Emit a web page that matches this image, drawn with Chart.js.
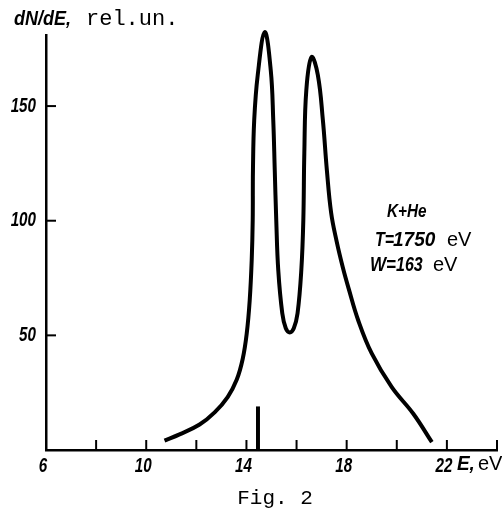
<!DOCTYPE html>
<html>
<head>
<meta charset="utf-8">
<script src="https://cdn.jsdelivr.net/npm/chart.js@4/dist/chart.umd.min.js"></script>
<style>
  html, body { margin: 0; padding: 0; background: #fff; }
  #wrap { width: 502px; height: 508px; }
</style>
</head>
<body>
<div id="wrap"><canvas id="spectrum" width="502" height="508"></canvas></div>
<script>
// --- DATA ---
const energy = [10.73, 11.33, 12.13, 12.73, 13.25, 13.61, 13.85, 14.01, 14.13, 14.21, 14.25, 14.26, 14.31, 14.45, 14.73,
                14.97, 15.07, 15.13, 15.19, 15.27, 15.43, 15.57, 15.73, 15.89, 16.04, 16.19, 16.27, 16.31, 16.39, 16.6,
                16.85, 17.05, 17.21, 17.38, 17.6, 17.85, 18.08, 18.46, 19.0, 19.8, 20.66, 21.4];
const intensity = [4.1, 6.8, 11.1, 16.4, 23.1, 30.6, 39.7, 50.7, 65.3, 82.8, 100.2, 122, 143.9, 163.5, 182.3,
                   165.7, 143.9, 122, 100.2, 78.4, 59.6, 53.1, 51.3, 53.1, 59.6, 78.4, 100.2, 129.5, 157, 171.4,
                   163.5, 143.9, 122, 103.5, 91, 79.5, 70.4, 56.6, 42.1, 27.4, 15.8, 3.4];
const markerE = [14.46, 14.46];
const markerV = [0, 19];
const xTicks = [6, 10, 14, 18, 22];
const yTicks = [50, 100, 150];

const labelFont = "'Liberation Sans', 'DejaVu Sans', sans-serif";
const monoFont = "'Liberation Mono', 'DejaVu Sans Mono', monospace";

// narrow bold italic lettering like the original print
function narrowText(ctx, text, x, y, size, align, squeeze) {
    ctx.save();
    ctx.translate(x, y);
    ctx.scale(squeeze, 1);
    ctx.font = `italic bold ${size}px ${labelFont}`;
    ctx.textAlign = align;
    ctx.fillText(text, 0, 0);
    ctx.restore();
}

// tick marks pointing into the plot + loose text of the figure
const figureText = {
    id: 'figureText',
    afterDraw(chart) {
        const { ctx, scales: { x, y } } = chart;
        ctx.save();
        ctx.strokeStyle = '#000';
        ctx.lineWidth = 2;
        for (let v = 8; v <= 24; v += 2) {
            const px = x.getPixelForValue(v);
            ctx.beginPath();
            ctx.moveTo(px, y.bottom);
            ctx.lineTo(px, y.bottom - 10);
            ctx.stroke();
        }
        yTicks.forEach(v => {
            const py = y.getPixelForValue(v);
            ctx.beginPath();
            ctx.moveTo(x.left, py);
            ctx.lineTo(x.left + 10, py);
            ctx.stroke();
        });

        ctx.fillStyle = '#000';
        ctx.textBaseline = 'middle';

        // tick labels
        xTicks.forEach(v => narrowText(ctx, String(v), x.getPixelForValue(v) - 3, y.bottom + 16, 20, 'center', 0.76));
        yTicks.forEach(v => narrowText(ctx, String(v), x.left - 10, y.getPixelForValue(v), 20, 'right', 0.76));

        // axis titles
        narrowText(ctx, 'dN/dE,', 14, 19, 20, 'left', 0.9);
        ctx.textAlign = 'left';
        ctx.font = `22px ${monoFont}`;
        ctx.fillText('rel.un.', 86, 19);

        const ex = x.getPixelForValue(22) + 10;
        narrowText(ctx, 'E,', ex, 464, 20, 'left', 0.95);
        ctx.textAlign = 'left';
        ctx.font = `20px 'Liberation Sans', sans-serif`;
        ctx.fillText('eV', ex + 21, 464);

        // legend block
        narrowText(ctx, 'K+He', 387, 212, 18, 'left', 0.85);
        narrowText(ctx, 'T=', 375, 240, 20, 'left', 0.8);
        narrowText(ctx, '1750', 393, 240, 20, 'left', 0.95);
        narrowText(ctx, 'W=', 370, 265, 20, 'left', 0.85);
        narrowText(ctx, '163', 396, 265, 20, 'left', 0.8);
        ctx.textAlign = 'left';
        ctx.font = `20px 'Liberation Sans', sans-serif`;
        ctx.fillText('eV', 447, 240);
        ctx.fillText('eV', 433, 265);

        ctx.textAlign = 'center';
        ctx.font = `21px ${monoFont}`;
        ctx.fillText('Fig. 2', 275, 498);
        ctx.restore();
    }
};

function initChart() {
    const ctx = document.getElementById('spectrum');
    new Chart(ctx, {
        type: 'scatter',
        data: {
            datasets: [
                {
                    data: energy.map((e, i) => ({ x: e, y: intensity[i] })),
                    showLine: true,
                    borderColor: '#000',
                    borderWidth: 4,
                    pointRadius: 0,
                    tension: 0.4,
                    clip: false
                },
                {
                    data: markerE.map((e, i) => ({ x: e, y: markerV[i] })),
                    showLine: true,
                    borderColor: '#000',
                    borderWidth: 4,
                    pointRadius: 0,
                    borderCapStyle: 'butt'
                }
            ]
        },
        options: {
            responsive: false,
            animation: false,
            layout: { padding: { top: 35, right: 5, left: 0, bottom: 0 } },
            plugins: { legend: { display: false }, tooltip: { enabled: false } },
            scales: {
                x: {
                    type: 'linear',
                    min: 6,
                    max: 24,
                    afterFit: s => { s.height = 58; },
                    grid: { display: false, drawTicks: false },
                    border: { display: true, color: '#000', width: 2.5 },
                    ticks: { display: false, stepSize: 2 }
                },
                y: {
                    min: 0,
                    max: 181,
                    afterFit: s => { s.width = 46; },
                    grid: { display: false, drawTicks: false },
                    border: { display: true, color: '#000', width: 2.5 },
                    ticks: { display: false, stepSize: 50 }
                }
            }
        },
        plugins: [figureText]
    });
}

document.addEventListener('DOMContentLoaded', initChart);
</script>
</body>
</html>
